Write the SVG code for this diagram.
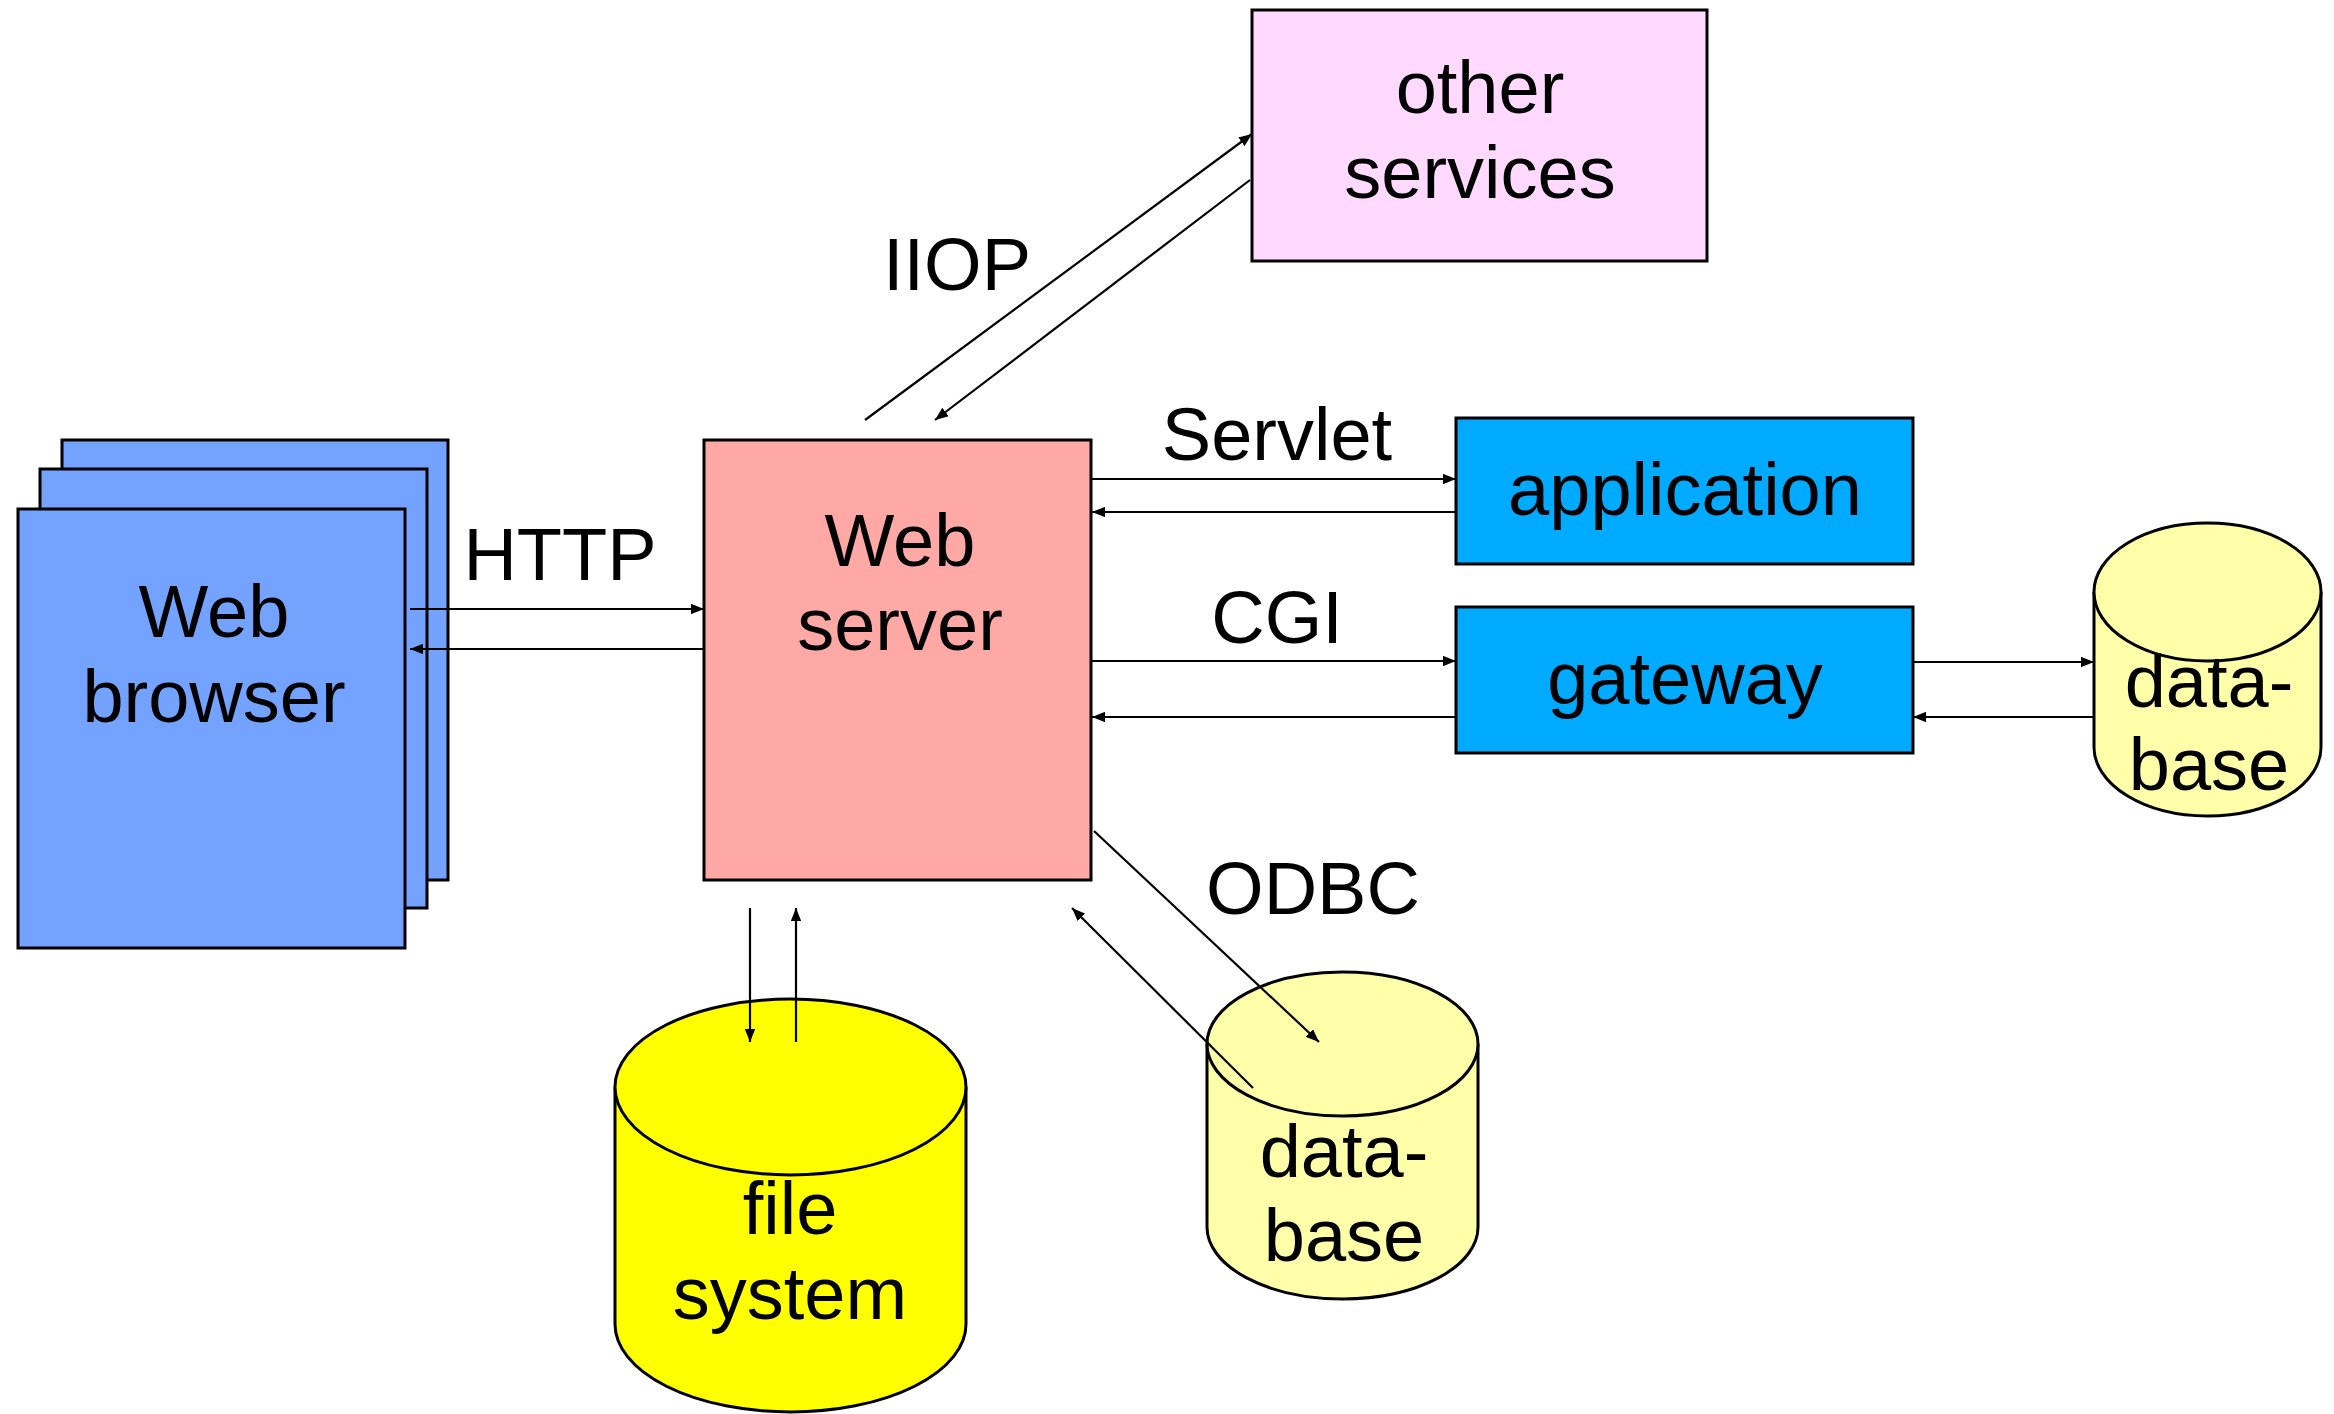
<svg xmlns="http://www.w3.org/2000/svg" width="2334" height="1414" viewBox="0 0 2334 1414">
<style>
  .box { stroke: #000; stroke-width: 3; }
  .lbl { font-family: "Liberation Sans", Arial, sans-serif; font-size: 74px; fill: #000; text-anchor: middle; }
  .con { stroke: #000; stroke-width: 2.2; fill: none; marker-end: url(#ah); }
</style>
<defs>
  <marker id="ah" viewBox="0 0 10 8" refX="10" refY="4" markerWidth="6" markerHeight="4.8" orient="auto" markerUnits="strokeWidth">
    <path d="M0,0 L10,4 L0,8 z" fill="#000"/>
  </marker>
</defs>
<rect width="2334" height="1414" fill="#fff"/>

<g id="web-browser">
  <rect class="box" x="62" y="440" width="386" height="440" fill="#74A2FF"/>
  <rect class="box" x="40" y="469" width="387" height="439" fill="#74A2FF"/>
  <rect class="box" x="18" y="509" width="387" height="439" fill="#74A2FF"/>
  <text class="lbl" x="214" y="637">Web</text>
  <text class="lbl" x="214" y="722">browser</text>
</g>

<g id="web-server">
  <rect class="box" x="704" y="440" width="387" height="440" fill="#FFA9A6"/>
  <text class="lbl" x="900" y="566">Web</text>
  <text class="lbl" x="900" y="650">server</text>
</g>

<g id="other-services">
  <rect class="box" x="1252" y="10" width="455" height="251" fill="#FFD9FF"/>
  <text class="lbl" x="1480" y="113">other</text>
  <text class="lbl" x="1480" y="198">services</text>
</g>

<g id="application">
  <rect class="box" x="1456" y="418" width="457" height="146" fill="#00AAFF"/>
  <text class="lbl" x="1685" y="515">application</text>
</g>

<g id="gateway">
  <rect class="box" x="1456" y="607" width="457" height="146" fill="#00AAFF"/>
  <text class="lbl" x="1685" y="704">gateway</text>
</g>

<g id="database-right">
  <path class="box" d="M2094,592 L2094,747 A113.5,69 0 0 0 2321,747 L2321,592" fill="#FFFFAA"/>
  <ellipse class="box" cx="2207.5" cy="592" rx="113.5" ry="69" fill="#FFFFAA"/>
  <text class="lbl" x="2209" y="707">data-</text>
  <text class="lbl" x="2209" y="790">base</text>
</g>

<g id="database-middle">
  <path class="box" d="M1207,1044 L1207,1227 A135.5,72 0 0 0 1478,1227 L1478,1044" fill="#FFFFAA"/>
  <ellipse class="box" cx="1342.5" cy="1044" rx="135.5" ry="72" fill="#FFFFAA"/>
  <text class="lbl" x="1344" y="1177">data-</text>
  <text class="lbl" x="1344" y="1261">base</text>
</g>

<g id="file-system">
  <path class="box" d="M615,1087 L615,1324 A175.5,88 0 0 0 966,1324 L966,1087" fill="#FFFF00"/>
  <ellipse class="box" cx="790.5" cy="1087" rx="175.5" ry="88" fill="#FFFF00"/>
  <text class="lbl" x="790" y="1234">file</text>
  <text class="lbl" x="790" y="1319">system</text>
</g>

<g id="labels">
  <text class="lbl" x="560" y="580">HTTP</text>
  <text class="lbl" x="957" y="290">IIOP</text>
  <text class="lbl" x="1277" y="460">Servlet</text>
  <text class="lbl" x="1277" y="643">CGI</text>
  <text class="lbl" x="1313" y="914">ODBC</text>
</g>

<g id="connectors">
  <line class="con" x1="410" y1="609" x2="704" y2="609"/>
  <line class="con" x1="704" y1="649" x2="410" y2="649"/>
  <line class="con" x1="865" y1="420" x2="1252" y2="134"/>
  <line class="con" x1="1250" y1="180" x2="935" y2="420"/>
  <line class="con" x1="1092" y1="479" x2="1456" y2="479"/>
  <line class="con" x1="1456" y1="512" x2="1092" y2="512"/>
  <line class="con" x1="1092" y1="661" x2="1456" y2="661"/>
  <line class="con" x1="1456" y1="717" x2="1092" y2="717"/>
  <line class="con" x1="1913" y1="662" x2="2094" y2="662"/>
  <line class="con" x1="2094" y1="717" x2="1913" y2="717"/>
  <line class="con" x1="1094" y1="831" x2="1319" y2="1042"/>
  <line class="con" x1="1253" y1="1088" x2="1072" y2="908"/>
  <line class="con" x1="750" y1="908" x2="750" y2="1042"/>
  <line class="con" x1="796" y1="1042" x2="796" y2="908"/>
</g>
</svg>
